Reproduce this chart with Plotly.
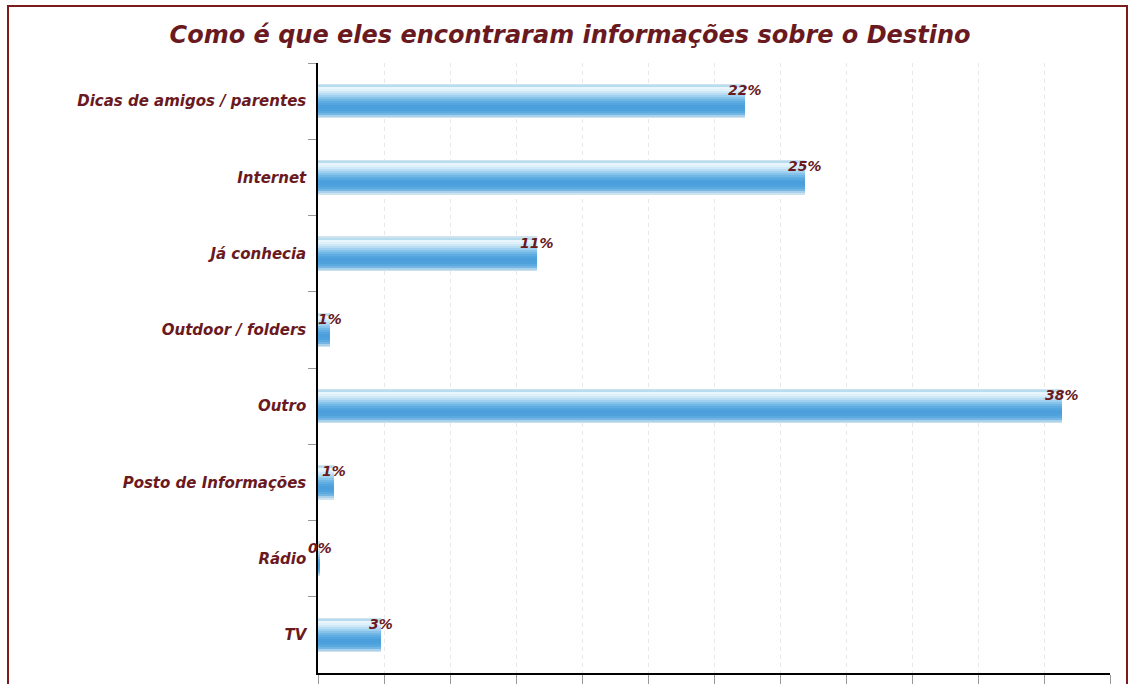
import plotly.graph_objects as go

# ---- data ----
categories = [
    "Dicas de amigos / parentes",
    "Internet",
    "Já conhecia",
    "Outdoor / folders",
    "Outro",
    "Posto de Informações",
    "Rádio",
    "TV",
]
values = [21.8, 24.9, 11.2, 0.6, 38.0, 0.8, 0.1, 3.2]
title_text = "Como é que eles encontraram informações sobre o Destino"

# ---- style ----
DARK_RED = "#6a1a1f"
FONT = "DejaVu Sans"
X_MAX = 40.46
BAR_W = 0.42
strip_colors = [
    "#b7dcef", "#e9f5fc", "#e0f1fa", "#cfe8f7", "#b8dcf3", "#9fd0ef",
    "#86c3ea", "#70b7e6", "#5eace1", "#52a5de", "#4ba0dc", "#4a9fdc",
    "#4fa3dd", "#5aaadf", "#74b6e3", "#a9d1ec",
]

fig = go.Figure()

# outline / shadow bar
fig.add_trace(go.Bar(
    x=values, y=categories, orientation="h",
    width=BAR_W + 0.03, offset=-(BAR_W + 0.03) / 2,
    marker=dict(color="#cfe3ee", line=dict(width=0)),
    hoverinfo="skip", showlegend=False,
))

n = len(strip_colors)
h = BAR_W / n
for i, c in enumerate(strip_colors):
    w = h * 1.8 if i < n - 1 else h
    fig.add_trace(go.Bar(
        x=values, y=categories, orientation="h",
        width=w, offset=-BAR_W / 2 + i * h,
        marker=dict(color=c, line=dict(width=0)),
        hoverinfo="skip", showlegend=False,
    ))

annotations = []
for cat, v in zip(categories, values):
    annotations.append(dict(
        x=v, y=cat, xref="x", yref="y",
        text=f"{v:.0f}%", showarrow=False,
        xanchor="center", yanchor="middle", yshift=11,
        font=dict(family=FONT, size=14, color=DARK_RED, style="italic", weight="bold"),
    ))

# plot-area margins (px)
L, R, T, B = 318, 25, 63, 11
W, H = 1135, 684
pw, ph = W - L - R, H - T - B

fig.update_layout(
    width=W, height=H,
    margin=dict(l=L, r=R, t=T, b=B, autoexpand=False),
    paper_bgcolor="white", plot_bgcolor="white",
    barmode="overlay",
    bargap=0,
    title=dict(
        text=title_text, x=570 / W, xanchor="center", xref="container",
        y=1 - 35 / H, yanchor="middle", yref="container",
        font=dict(family=FONT, size=24, color=DARK_RED, style="italic", weight="bold"),
    ),
    xaxis=dict(
        range=[0, X_MAX], tick0=0, dtick=X_MAX / 12,
        showgrid=True, gridcolor="#e8e8e8", griddash="4px,4px", gridwidth=1,
        showline=True, linecolor="black", linewidth=1.5,
        ticks="outside", ticklen=12, tickcolor="#999999",
        showticklabels=False, zeroline=False, fixedrange=True,
        automargin=False,
    ),
    yaxis=dict(
        categoryorder="array", categoryarray=categories, autorange="reversed",
        showline=True, linecolor="black", linewidth=1.5,
        ticks="outside", tickson="boundaries", ticklen=8, tickcolor="#999999",
        ticklabelstandoff=7,
        tickfont=dict(family=FONT, size=15, color=DARK_RED, style="italic", weight="bold"),
        showgrid=False, zeroline=False, fixedrange=True,
        automargin=False,
    ),
    annotations=annotations,
    shapes=[dict(
        type="rect", xref="paper", yref="paper",
        x0=(8 - L) / pw, x1=(1127 - L) / pw,
        y0=(T + ph - 700) / ph, y1=(T + ph - 6) / ph,
        line=dict(color="#7a1c1c", width=2), fillcolor="rgba(0,0,0,0)",
        layer="below",
    )],
)

fig.write_html(
    "out.html",
    config={"displayModeBar": False},
    post_script="document.body.style.margin='0';document.body.style.overflow='hidden';",
)
